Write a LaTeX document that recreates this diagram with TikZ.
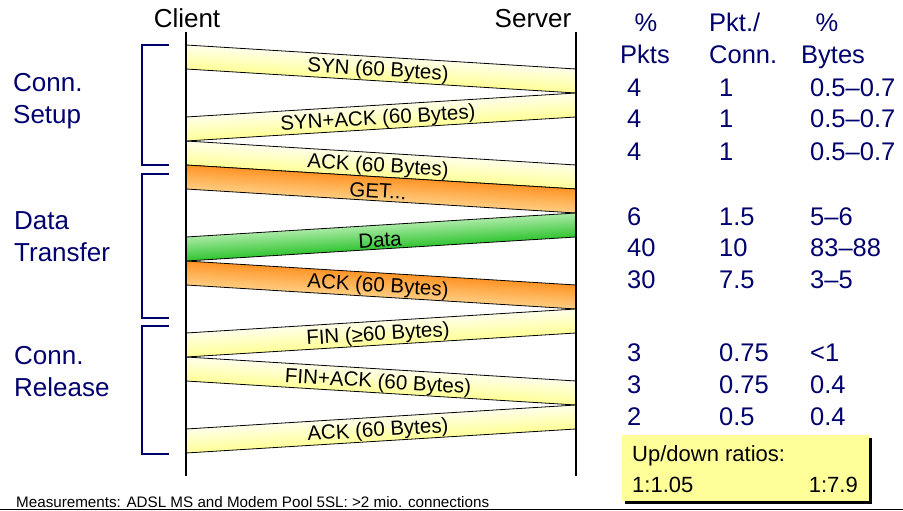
\documentclass[tikz,border=0pt]{standalone}
\usepackage{fontspec}
\setmainfont{Liberation Sans}
\usepackage{tikz}
\definecolor{ylight}{RGB}{255,255,234}
\definecolor{ydark}{RGB}{255,255,150}
\definecolor{odark}{RGB}{255,148,38}
\definecolor{olight}{RGB}{255,206,130}
\definecolor{glight}{RGB}{170,234,165}
\definecolor{gdark}{RGB}{48,196,48}
\definecolor{boxyellow}{RGB}{255,255,153}
\definecolor{txtblue}{RGB}{0,0,110}

\begin{document}
\begin{tikzpicture}[x=1pt,y=1pt,yscale=-1,xscale=1,
  yband/.style={draw=black,line width=0.8pt,top color=ylight,bottom color=ydark},
  oband/.style={draw=black,line width=0.8pt,top color=odark,bottom color=olight},
  gband/.style={draw=black,line width=0.8pt,top color=glight,bottom color=gdark},
  msg/.style={inner sep=0pt,font=\fontsize{20.5}{24}\selectfont},
  phase/.style={inner sep=0pt,anchor=west,align=left,text=txtblue,font=\fontsize{26}{32}\selectfont},
  cell/.style={inner sep=0pt,anchor=base west,text=txtblue,font=\fontsize{25.5}{32}\selectfont},
  brk/.style={draw=txtblue,line width=2pt}]
\useasboundingbox (0,0) rectangle (903,511);

%Shape: Bands client -> server (slanted down)
\begin{scope}[transform canvas={yslant=-0.061538}]
\shade [yband] (186,33.554) rectangle (576,57.554) ;
\shade [yband] (186,129.554) rectangle (576,153.554) ;
\shade [oband] (186,153.554) rectangle (576,177.554) ;
\shade [oband] (186,249.554) rectangle (576,273.554) ;
\shade [yband] (186,345.554) rectangle (576,369.554) ;
\end{scope}
%Shape: Bands server -> client (slanted up)
\begin{scope}[transform canvas={yslant=0.061538}]
\shade [yband] (186,128.446) rectangle (576,152.446) ;
\shade [gband] (186,248.446) rectangle (576,272.446) ;
\shade [yband] (186,344.446) rectangle (576,368.446) ;
\shade [yband] (186,440.446) rectangle (576,464.446) ;
\end{scope}

% Text Node
\draw (378,70.8) node (syn) [msg,rotate=-3.52] {SYN (60 Bytes)};
% Text Node
\draw (378,119.2) node (synack) [msg,rotate=3.52] {SYN+ACK (60 Bytes)};
% Text Node
\draw (378,166.8) node (ack) [msg,rotate=-3.52] {ACK (60 Bytes)};
% Text Node
\draw (378,190.8) node (get) [msg,rotate=-3.52] {GET...};
% Text Node
\draw (380,240) node (data) [msg,rotate=3.52] {Data};
% Text Node
\draw (378,286.8) node (dack) [msg,rotate=-3.52] {ACK (60 Bytes)};
% Text Node
\draw (378,335.2) node (fin) [msg,rotate=3.52] {FIN (≥60 Bytes)};
% Text Node
\draw (378,382.8) node (finack) [msg,rotate=-3.52] {FIN+ACK (60 Bytes)};
% Text Node
\draw (378,431.2) node (lack) [msg,rotate=3.52] {ACK (60 Bytes)};

%Straight Lines: lifelines
\draw [line width=2pt] (186,32) -- (186,476) ;
\draw [line width=2pt] (576,32) -- (576,476) ;

% Text Node
\draw (187,28) node (client) [inner sep=0pt,anchor=base,font=\fontsize{26}{32}\selectfont] {Client};
% Text Node
\draw (533,28) node (server) [inner sep=0pt,anchor=base,font=\fontsize{26}{32}\selectfont] {Server};

%Shape: Brackets
\draw [brk] (169,45) -- (142,45) -- (142,165) -- (169,165) ;
\draw [brk] (169,174) -- (142,174) -- (142,318) -- (169,318) ;
\draw [brk] (169,326) -- (142,326) -- (142,454) -- (169,454) ;

% Text Node
\draw (13,101) node (setup) [phase] {Conn.\\Setup};
% Text Node
\draw (14,237) node (transfer) [phase] {Data\\Transfer};
% Text Node
\draw (14,372) node (release) [phase] {Conn.\\Release};

% Text Node: table head
\draw (646,32) node (hpkts) [cell,anchor=base] {\%};
\draw (620,64) node (hpkts2) [cell] {Pkts};
\draw (709,32) node (hconn) [cell] {Pkt./};
\draw (709,64) node (hconn2) [cell] {Conn.};
\draw (827,32) node (hbytes) [cell,anchor=base] {\%};
\draw (801,64) node (hbytes2) [cell] {Bytes};

% Text Node: table rows
\draw (627,96) node (pa) [cell] {4};
\draw (719,96) node (ca) [cell] {1};
\draw (810,96) node (ba) [cell] {0.5--0.7};
\draw (627,128) node (pb) [cell] {4};
\draw (719,128) node (cb) [cell] {1};
\draw (810,128) node (bb) [cell] {0.5--0.7};
\draw (627,160) node (pc) [cell] {4};
\draw (719,160) node (cc) [cell] {1};
\draw (810,160) node (bc) [cell] {0.5--0.7};
\draw (627,225) node (pd) [cell] {6};
\draw (719,225) node (cd) [cell] {1.5};
\draw (810,225) node (bd) [cell] {5--6};
\draw (627,256) node (pe) [cell] {40};
\draw (719,256) node (ce) [cell] {10};
\draw (810,256) node (be) [cell] {83--88};
\draw (627,288) node (pf) [cell] {30};
\draw (719,288) node (cf) [cell] {7.5};
\draw (810,288) node (bf) [cell] {3--5};
\draw (627,361) node (pg) [cell] {3};
\draw (719,361) node (cg) [cell] {0.75};
\draw (810,361) node (bg) [cell] {<1};
\draw (627,393) node (ph) [cell] {3};
\draw (719,393) node (ch) [cell] {0.75};
\draw (810,393) node (bh) [cell] {0.4};
\draw (627,425) node (pi) [cell] {2};
\draw (719,425) node (ci) [cell] {0.5};
\draw (810,425) node (bi) [cell] {0.4};

%Shape: Rectangle (ratios box with shadow)
\fill [black] (625,438) rectangle (872,504) ;
\fill [boxyellow] (622,435) rectangle (869,501) ;
% Text Node
\draw (632,461) node (ratios) [inner sep=0pt,anchor=base west,font=\fontsize{22}{26}\selectfont] {Up/down ratios:};
\draw (632,492) node (up) [inner sep=0pt,anchor=base west,font=\fontsize{22}{26}\selectfont] {1:1.05};
\draw (858,492) node (down) [inner sep=0pt,anchor=base east,font=\fontsize{22}{26}\selectfont] {1:7.9};

% Text Node
\draw (16,507) node (measure) [inner sep=0pt,anchor=base west,font=\fontsize{15.2}{18}\selectfont] {Measurements: ADSL MS and Modem Pool 5SL: >2 mio. connections};
%Straight Lines
\draw [line width=0.8pt] (0,509.5) -- (903,509.5) ;

\end{tikzpicture}
\end{document}
